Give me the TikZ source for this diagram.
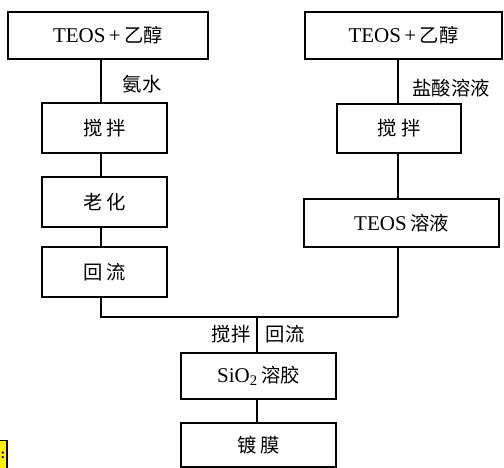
\documentclass[tikz,border=0pt]{standalone}
\usepackage{fontspec}
\setmainfont{Liberation Serif}
\newfontfamily\cjk{Noto Sans CJK SC}[Scale=0.92]
\begin{document}
\begin{tikzpicture}[x=1pt,y=-1pt,
  box/.style={draw, line width=1.4pt, inner sep=0pt, outer sep=0pt, font=\fontsize{21}{23}\selectfont},
  lbl/.style={inner sep=0pt, font=\fontsize{21}{23}\selectfont},
  conn/.style={line width=1.4pt}]
\useasboundingbox (0,0) rectangle (504,468);
% left branch
\node[box, minimum width=200pt, minimum height=47pt] (a1) at (108,35.5) {TEOS\,+\,\cjk 乙醇};
\node[box, minimum width=125pt, minimum height=50pt] (a2) at (104.5,128) {\cjk 搅\ 拌};
\node[box, minimum width=125pt, minimum height=50pt] (a3) at (104.5,202) {\cjk 老\ 化};
\node[box, minimum width=125pt, minimum height=50pt] (a4) at (104.5,272) {\cjk 回\ 流};
% right branch
\node[box, minimum width=197pt, minimum height=47pt] (b1) at (403.5,35.5) {TEOS\,+\,\cjk 乙醇};
\node[box, minimum width=124pt, minimum height=49pt] (b2) at (399,128.5) {\cjk 搅\ 拌};
\node[box, minimum width=195pt, minimum height=48pt] (b3) at (401.5,223) {TEOS\,{\cjk 溶液}};
% bottom
\node[box, minimum width=155pt, minimum height=46pt] (c1) at (258.5,376) {SiO\textsubscript{2}\,{\cjk 溶胶}};
\node[box, minimum width=155pt, minimum height=44pt] (c2) at (258.5,445) {\cjk 镀\ 膜};
% line positions
\coordinate (lx) at (101,0);
\coordinate (rx) at (398,0);
\coordinate (mx) at (257,0);
\coordinate (jl) at (101,317);
\coordinate (jr) at (398,317);
\coordinate (jm) at (257,317);
\draw[conn] (a1.south -| lx) -- (a2.north -| lx);
\draw[conn] (a2.south -| lx) -- (a3.north -| lx);
\draw[conn] (a3.south -| lx) -- (a4.north -| lx);
\draw[conn] (a4.south -| lx) -- (jl) -- (jr);
\draw[conn] (b1.south -| rx) -- (b2.north -| rx);
\draw[conn] (b2.south -| rx) -- (b3.north -| rx);
\draw[conn] (b3.south -| rx) -- (jr);
\draw[conn] (jm) -- (c1.north -| mx);
\draw[conn] (c1.south -| mx) -- (c2.north -| mx);
% labels
\node[lbl] (l1) at (142,84) {\cjk 氨水};
\node[lbl] (l2) at (451,88) {\cjk 盐酸溶液};
\node[lbl] (l3) at (231,334) {\cjk 搅拌};
\node[lbl] (l4) at (285,334) {\cjk 回流};
% clipped yellow tag
\node[draw, line width=1.2pt, fill=yellow, minimum width=12pt, minimum height=30pt, inner sep=0pt, anchor=north east, font=\bfseries\fontsize{14}{14}\selectfont] (tag) at (7.5,440) {\hspace*{4pt}:};
\end{tikzpicture}
\end{document}
